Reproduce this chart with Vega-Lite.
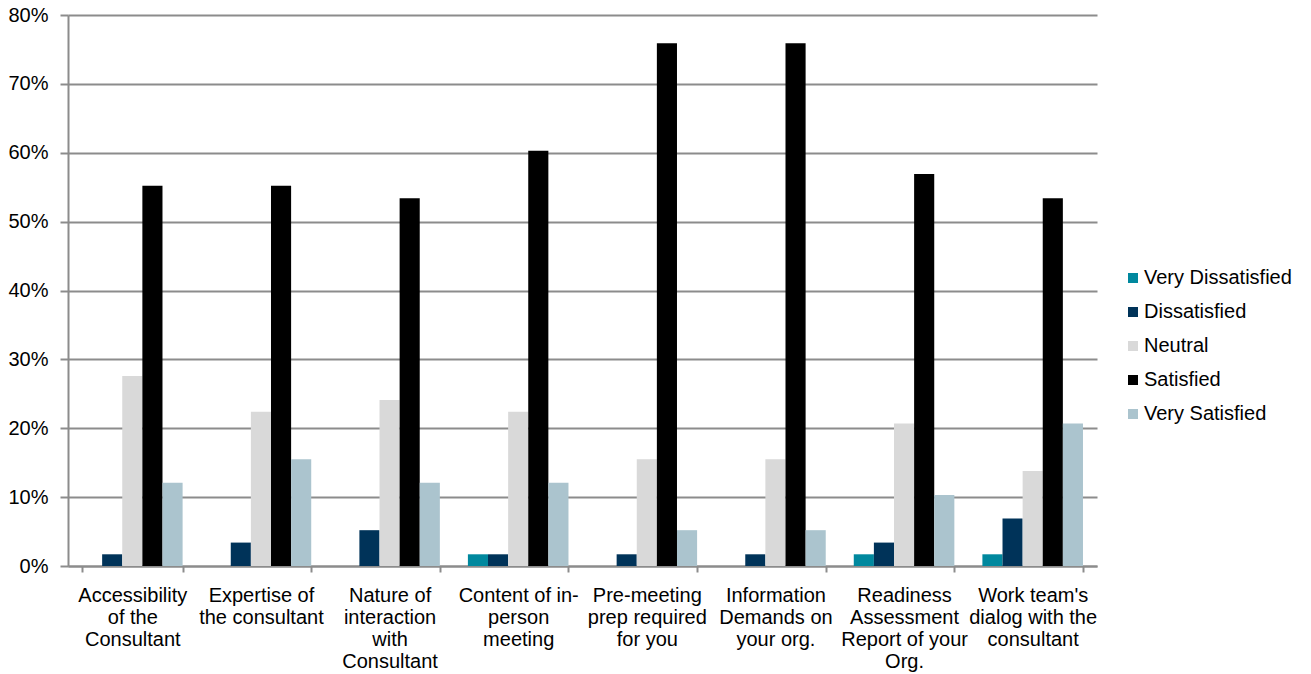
{
  "$schema": "https://vega.github.io/schema/vega-lite/v6.json",
  "autosize": "none",
  "padding": {"left": 68, "top": 15, "right": 214, "bottom": 108},
  "width": 1029,
  "height": 551,
  "background": "white",
  "data": {
    "values": [
      {"item": "Accessibility\nof the\nConsultant", "rating": "Very Dissatisfied", "share": 0},
      {"item": "Accessibility\nof the\nConsultant", "rating": "Dissatisfied", "share": 0.017},
      {"item": "Accessibility\nof the\nConsultant", "rating": "Neutral", "share": 0.276},
      {"item": "Accessibility\nof the\nConsultant", "rating": "Satisfied", "share": 0.552},
      {"item": "Accessibility\nof the\nConsultant", "rating": "Very Satisfied", "share": 0.121},
      {"item": "Expertise of\nthe consultant", "rating": "Very Dissatisfied", "share": 0},
      {"item": "Expertise of\nthe consultant", "rating": "Dissatisfied", "share": 0.034},
      {"item": "Expertise of\nthe consultant", "rating": "Neutral", "share": 0.224},
      {"item": "Expertise of\nthe consultant", "rating": "Satisfied", "share": 0.552},
      {"item": "Expertise of\nthe consultant", "rating": "Very Satisfied", "share": 0.155},
      {"item": "Nature of\ninteraction\nwith\nConsultant", "rating": "Very Dissatisfied", "share": 0},
      {"item": "Nature of\ninteraction\nwith\nConsultant", "rating": "Dissatisfied", "share": 0.052},
      {"item": "Nature of\ninteraction\nwith\nConsultant", "rating": "Neutral", "share": 0.241},
      {"item": "Nature of\ninteraction\nwith\nConsultant", "rating": "Satisfied", "share": 0.534},
      {"item": "Nature of\ninteraction\nwith\nConsultant", "rating": "Very Satisfied", "share": 0.121},
      {"item": "Content of in-\nperson\nmeeting", "rating": "Very Dissatisfied", "share": 0.017},
      {"item": "Content of in-\nperson\nmeeting", "rating": "Dissatisfied", "share": 0.017},
      {"item": "Content of in-\nperson\nmeeting", "rating": "Neutral", "share": 0.224},
      {"item": "Content of in-\nperson\nmeeting", "rating": "Satisfied", "share": 0.603},
      {"item": "Content of in-\nperson\nmeeting", "rating": "Very Satisfied", "share": 0.121},
      {"item": "Pre-meeting\nprep required\nfor you", "rating": "Very Dissatisfied", "share": 0},
      {"item": "Pre-meeting\nprep required\nfor you", "rating": "Dissatisfied", "share": 0.017},
      {"item": "Pre-meeting\nprep required\nfor you", "rating": "Neutral", "share": 0.155},
      {"item": "Pre-meeting\nprep required\nfor you", "rating": "Satisfied", "share": 0.759},
      {"item": "Pre-meeting\nprep required\nfor you", "rating": "Very Satisfied", "share": 0.052},
      {"item": "Information\nDemands on\nyour org.", "rating": "Very Dissatisfied", "share": 0},
      {"item": "Information\nDemands on\nyour org.", "rating": "Dissatisfied", "share": 0.017},
      {"item": "Information\nDemands on\nyour org.", "rating": "Neutral", "share": 0.155},
      {"item": "Information\nDemands on\nyour org.", "rating": "Satisfied", "share": 0.759},
      {"item": "Information\nDemands on\nyour org.", "rating": "Very Satisfied", "share": 0.052},
      {"item": "Readiness\nAssessment\nReport of your\nOrg.", "rating": "Very Dissatisfied", "share": 0.017},
      {"item": "Readiness\nAssessment\nReport of your\nOrg.", "rating": "Dissatisfied", "share": 0.034},
      {"item": "Readiness\nAssessment\nReport of your\nOrg.", "rating": "Neutral", "share": 0.207},
      {"item": "Readiness\nAssessment\nReport of your\nOrg.", "rating": "Satisfied", "share": 0.569},
      {"item": "Readiness\nAssessment\nReport of your\nOrg.", "rating": "Very Satisfied", "share": 0.103},
      {"item": "Work team's\ndialog with the\nconsultant", "rating": "Very Dissatisfied", "share": 0.017},
      {"item": "Work team's\ndialog with the\nconsultant", "rating": "Dissatisfied", "share": 0.069},
      {"item": "Work team's\ndialog with the\nconsultant", "rating": "Neutral", "share": 0.138},
      {"item": "Work team's\ndialog with the\nconsultant", "rating": "Satisfied", "share": 0.534},
      {"item": "Work team's\ndialog with the\nconsultant", "rating": "Very Satisfied", "share": 0.207}
    ]
  },
  "mark": {"type": "bar"},
  "encoding": {
    "x": {
      "field": "item",
      "type": "nominal",
      "sort": null,
      "scale": {"paddingInner": 0.218, "paddingOuter": 0.109},
      "axis": {
        "title": null,
        "labelAngle": 0,
        "labelExpr": "split(datum.label, '\\n')",
        "labelLineHeight": 22,
        "labelPadding": 13,
        "tickBand": "extent",
        "tickSize": 6,
        "tickColor": "#8c8c8c",
        "tickWidth": 2,
        "domainColor": "#8c8c8c",
        "domainWidth": 2,
        "grid": false,
        "labelLimit": 300
      }
    },
    "xOffset": {
      "field": "rating",
      "type": "nominal",
      "sort": ["Very Dissatisfied", "Dissatisfied", "Neutral", "Satisfied", "Very Satisfied"],
      "scale": {"paddingInner": 0, "paddingOuter": 0}
    },
    "y": {
      "field": "share",
      "type": "quantitative",
      "scale": {"domain": [0, 0.8], "nice": false},
      "axis": {
        "title": null,
        "format": ".0%",
        "values": [0, 0.1, 0.2, 0.3, 0.4, 0.5, 0.6, 0.7, 0.8],
        "tickSize": 8,
        "tickColor": "#8c8c8c",
        "tickWidth": 2,
        "labelPadding": 12,
        "domainColor": "#8c8c8c",
        "domainWidth": 2,
        "gridColor": "#8c8c8c",
        "gridWidth": 2
      }
    },
    "color": {
      "field": "rating",
      "type": "nominal",
      "sort": ["Very Dissatisfied", "Dissatisfied", "Neutral", "Satisfied", "Very Satisfied"],
      "scale": {
        "domain": ["Very Dissatisfied", "Dissatisfied", "Neutral", "Satisfied", "Very Satisfied"],
        "range": ["#00889e", "#003359", "#d9d9d9", "#000000", "#abc4ce"]
      },
      "legend": {
        "title": null,
        "orient": "none",
        "legendX": 1055,
        "legendY": 253,
        "symbolType": "square",
        "symbolSize": 100,
        "symbolStrokeWidth": 0,
        "rowPadding": 14,
        "labelOffset": 1,
        "labelFontSize": 20,
        "labelFont": "Liberation Sans",
        "labelColor": "#000000",
        "labelLimit": 300
      }
    }
  },
  "config": {
    "view": {"stroke": null},
    "axis": {
      "labelFont": "Liberation Sans",
      "labelFontSize": 20,
      "labelColor": "#000000"
    }
  }
}
